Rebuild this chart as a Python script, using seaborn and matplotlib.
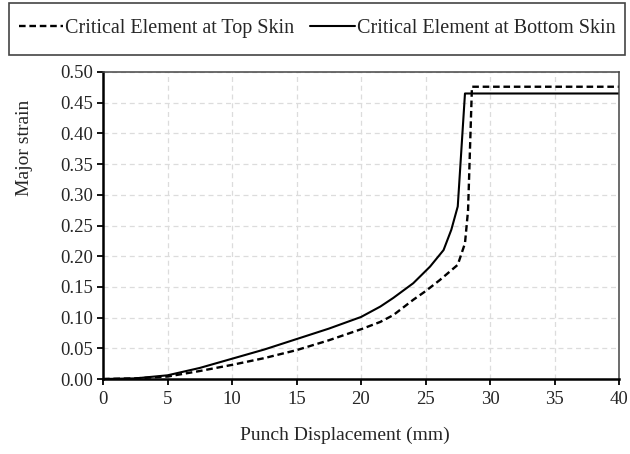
import numpy as np
import pandas as pd
import matplotlib
matplotlib.use("Agg")
import matplotlib.pyplot as plt
from matplotlib.patches import Rectangle
import seaborn as sns

# Critical element at top skin (dashed)
top_x = [0, 2.5, 5, 7.5, 10, 12.5, 15, 17.5, 20, 21.5, 22.5, 24.05, 25, 26.1, 27.5, 28.06, 28.3, 28.6, 40]
top_y = [0, 0.001, 0.004, 0.013, 0.023, 0.034, 0.047, 0.063, 0.081, 0.093, 0.104, 0.129, 0.143, 0.161, 0.186, 0.221, 0.275, 0.476, 0.476]

# Critical element at bottom skin (solid)
bot_x = [0, 2.5, 5, 7.5, 10, 12.5, 15, 17.5, 20, 21.5, 22.5, 24.05, 25.35, 26.4, 27.0, 27.5, 28.06, 40]
bot_y = [0, 0.001, 0.006, 0.018, 0.033, 0.048, 0.065, 0.082, 0.101, 0.118, 0.132, 0.156, 0.183, 0.21, 0.243, 0.281, 0.465, 0.465]

labels = ["Critical Element at Top Skin", "Critical Element at Bottom Skin"]
x_ticks = [0, 5, 10, 15, 20, 25, 30, 35, 40]
y_ticks = [0.00, 0.05, 0.10, 0.15, 0.20, 0.25, 0.30, 0.35, 0.40, 0.45, 0.50]

sns.set_style("white")
plt.rcParams["font.family"] = ["Liberation Serif", "DejaVu Serif"]

W, H = 630, 454
fig = plt.figure(figsize=(6.3, 4.54), dpi=100)
ax = fig.add_axes([103/W, 1 - 379/H, (619-103)/W, (379-72)/H])

df_top = pd.DataFrame({"x": top_x, "y": top_y})
df_bot = pd.DataFrame({"x": bot_x, "y": bot_y})
sns.lineplot(data=df_top, x="x", y="y", ax=ax, color="black", linewidth=1.7,
             label=labels[0], sort=False)
sns.lineplot(data=df_bot, x="x", y="y", ax=ax, color="black", linewidth=1.5,
             label=labels[1], sort=False)
ax.lines[0].set_dashes([2.8, 1.6])

ax.set_xlim(0, 40)
ax.set_ylim(0, 0.5)
ax.set_xticks(x_ticks)
ax.set_yticks(y_ticks)
ax.set_xticklabels([str(v) for v in x_ticks], fontsize=13.5)
ax.set_yticklabels([f"{v:.2f}" for v in y_ticks], fontsize=13.5)
ax.grid(True, color="#dcdcdc", linestyle=(0, (4, 3)), linewidth=0.9)
ax.set_axisbelow(True)
for s in ["left", "bottom"]:
    ax.spines[s].set_color("black")
    ax.spines[s].set_linewidth(1.8)
for s in ["top", "right"]:
    ax.spines[s].set_color("#444444")
    ax.spines[s].set_linewidth(1.1)
ax.tick_params(axis="both", direction="out", length=4, width=1.3, color="black",
               left=True, bottom=True, pad=3)
ax.tick_params(axis="x", pad=5)
ax.set_xlabel("Punch Displacement (mm)", fontsize=14)
ax.set_ylabel("Major strain", fontsize=14)
ax.xaxis.set_label_coords(0.469, (379 - 427) / 307)
ax.yaxis.set_label_coords((33 - 103) / 516, 0.753)

ax.get_legend().remove()
handles = ax.lines[:2]
fig.patches.append(Rectangle((9/W, 1 - 55/H), (625-9)/W, (55-3)/H, transform=fig.transFigure,
                             fill=False, edgecolor="#444444", linewidth=1.2))
leg = fig.legend(handles, labels, loc="center", bbox_to_anchor=(317/W, 1 - 28/H),
                 ncol=2, frameon=False, fontsize=14.5, handlelength=2.2,
                 handletextpad=0.1, columnspacing=0.8, borderaxespad=0)

fig.savefig("out.png", dpi=100)
